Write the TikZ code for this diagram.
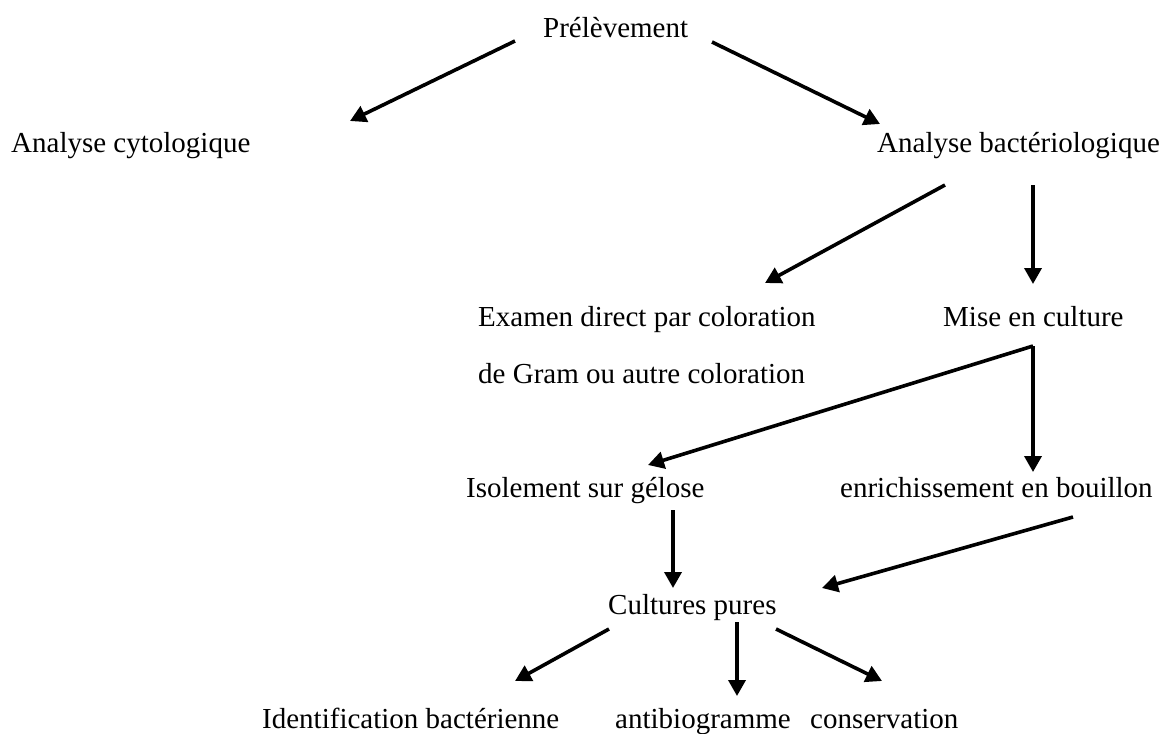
\documentclass[tikz,border=0pt]{standalone}
\usepackage{fontspec}
\setmainfont{Liberation Serif}
\usetikzlibrary{arrows.meta}
\begin{document}
\begin{tikzpicture}[x=1pt,y=-1pt,
  lbl/.style={inner sep=0pt,anchor=base west,font=\fontsize{29pt}{34pt}\selectfont},
  arr/.style={line width=3.6pt,-{Triangle[length=16pt,width=17pt]}}]
\useasboundingbox (0,0) rectangle (1160,734);
% texts
\node[lbl] (prel) at (543,37) {Prélèvement};
\node[lbl] (cyto) at (11,152) {Analyse cytologique};
\node[lbl] (bact) at (877,152) {Analyse bactériologique};
\node[lbl] (exam) at (478,326) {Examen direct par coloration};
\node[lbl] (gram) at (478,383) {de Gram ou autre coloration};
\node[lbl] (mise) at (943,326) {Mise en culture};
\node[lbl] (isol) at (466,497) {Isolement sur gélose};
\node[lbl] (enri) at (840,497) {enrichissement en bouillon};
\node[lbl] (cult) at (608,614) {Cultures pures};
\node[lbl] (iden) at (262,728) {Identification bactérienne};
\node[lbl] (anti) at (615,728) {antibiogramme};
\node[lbl] (cons) at (810,728) {conservation};
% connector ends
\coordinate (a1s) at (515,41);  \coordinate (a1e) at (350,121);
\coordinate (a2s) at (712,42);  \coordinate (a2e) at (880,124);
\coordinate (a3s) at (945,185); \coordinate (a3e) at (765,283);
\coordinate (a4s) at (1033,185);\coordinate (a4e) at (1033,284);
\coordinate (a5s) at (1033,346);\coordinate (a5e) at (648,465);
\coordinate (a6e) at (1033,472);
\coordinate (a7s) at (673,510); \coordinate (a7e) at (673,588);
\coordinate (a8s) at (1073,517);\coordinate (a8e) at (822,588);
\coordinate (a9s) at (609,629); \coordinate (a9e) at (515,681);
\coordinate (a10s) at (737,622);\coordinate (a10e) at (737,696);
\coordinate (a11s) at (776,629);\coordinate (a11e) at (882,681);
% connectors
\draw[arr] (a1s) -- (a1e);
\draw[arr] (a2s) -- (a2e);
\draw[arr] (a3s) -- (a3e);
\draw[arr] (a4s) -- (a4e);
\draw[arr] (a5s) -- (a5e);
\draw[arr] (a5s) -- (a6e);
\draw[arr] (a7s) -- (a7e);
\draw[arr] (a8s) -- (a8e);
\draw[arr] (a9s) -- (a9e);
\draw[arr] (a10s) -- (a10e);
\draw[arr] (a11s) -- (a11e);
\end{tikzpicture}
\end{document}
